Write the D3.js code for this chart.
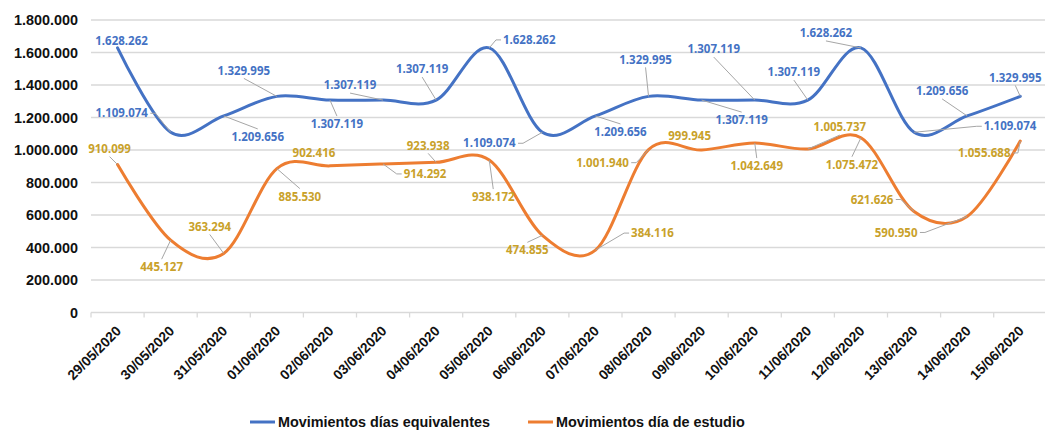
<!DOCTYPE html>
<html>
<head>
<meta charset="utf-8">
<script src="https://cdn.jsdelivr.net/npm/d3@7"></script>
<style>
  body { margin: 0; background: #fff; }
  svg { display: block; }
</style>
</head>
<body>
<script>
// data
const dates = ["29/05/2020", "30/05/2020", "31/05/2020", "01/06/2020", "02/06/2020", "03/06/2020",
  "04/06/2020", "05/06/2020", "06/06/2020", "07/06/2020", "08/06/2020", "09/06/2020",
  "10/06/2020", "11/06/2020", "12/06/2020", "13/06/2020", "14/06/2020", "15/06/2020"];

const equivalentes = [1628262, 1109074, 1209656, 1329995, 1307119, 1307119,
  1307119, 1628262, 1109074, 1209656, 1329995, 1307119,
  1307119, 1307119, 1628262, 1109074, 1209656, 1329995];

const estudio = [910099, 445127, 363294, 885530, 902416, 914292,
  923938, 938172, 474855, 384116, 1001940, 999945,
  1042649, 1005737, 1075472, 621626, 590950, 1055688];

const yTicks = [0, 200000, 400000, 600000, 800000, 1000000, 1200000, 1400000, 1600000, 1800000];

// label offsets from each point (layout, not data)
const blueOffsets = [[4, -7], [-49, -19], [34, 21], [-33, -26], [7, 24], [-33, -15],
  [-14, -31], [40, -8], [-53, 11], [25, 16], [-3, -37], [40, 20],
  [-41, -51], [-14, -28], [-35, -15], [96, -6], [-25, -25], [-5, -19]];
const orangeOffsets = [[-8, -16], [-9, 27], [-14, -27], [23, 28], [-16, -13], [42, 10],
  [-8, -17], [4, 37], [-15, 15], [57, -17], [-46, 13], [-12, -14],
  [2, 23], [32, -22], [-9, 27], [-42, -12], [-71, 16], [-36, 12]];

const width = 1045, height = 430;
const margin = {top: 20, left: 91, bottom: 312.5};

const series = [
  {name: "Movimientos días equivalentes", values: equivalentes, color: "#4472C4", labelColor: "#4472C4", offsets: blueOffsets},
  {name: "Movimientos día de estudio", values: estudio, color: "#ED7D31", labelColor: "#C9A12A", offsets: orangeOffsets}
];

const fmt = d3.formatLocale({decimal: ",", thousands: ".", grouping: [3], currency: ["", ""]}).format(",d");
const axisFont = "'Liberation Sans', Arial, sans-serif";

const svg = d3.select("body").append("svg")
  .attr("width", width)
  .attr("height", height);

const x = d3.scaleBand()
  .domain(dates)
  .range([margin.left, margin.left + 53.1 * dates.length]);

const y = d3.scaleLinear()
  .domain([0, 1800000])
  .range([margin.bottom, margin.top]);

// gridlines
svg.append("g")
  .selectAll("line")
  .data(yTicks)
  .join("line")
    .attr("x1", margin.left)
    .attr("x2", width)
    .attr("y1", d => y(d))
    .attr("y2", d => y(d))
    .attr("stroke", "#d9d9d9")
    .attr("stroke-width", 1.3);

// y tick labels
svg.append("g")
  .attr("font-family", axisFont)
  .attr("font-weight", "bold")
  .attr("font-size", 14.4)
  .selectAll("text")
  .data(yTicks)
  .join("text")
    .attr("x", 78)
    .attr("y", d => y(d))
    .attr("dy", "0.36em")
    .attr("text-anchor", "end")
    .attr("fill", "#111")
    .text(d => fmt(d));

// category tick marks
svg.append("g")
  .selectAll("line")
  .data(dates.map(d => x(d)))
  .join("line")
    .attr("x1", d => d)
    .attr("x2", d => d)
    .attr("y1", margin.bottom)
    .attr("y2", margin.bottom + 5)
    .attr("stroke", "#d9d9d9")
    .attr("stroke-width", 1.3);

// x labels
svg.append("g")
  .attr("font-family", axisFont)
  .attr("font-weight", "bold")
  .attr("font-size", 13.8)
  .selectAll("text")
  .data(dates)
  .join("text")
    .attr("transform", d => `translate(${x(d) + x.bandwidth() / 2 + 1},${margin.bottom + 16}) rotate(-45)`)
    .attr("text-anchor", "end")
    .attr("dy", "0.35em")
    .attr("fill", "#111")
    .text(d => d);

const line = d3.line()
  .x((d, i) => x(dates[i]) + x.bandwidth() / 2)
  .y(d => y(d))
  .curve(d3.curveCatmullRom.alpha(0));

svg.append("g")
  .selectAll("path")
  .data(series)
  .join("path")
    .attr("fill", "none")
    .attr("stroke", d => d.color)
    .attr("stroke-width", 3)
    .attr("stroke-linecap", "round")
    .attr("d", d => line(d.values));

// data labels + leader lines
const leaders = svg.append("g")
  .attr("stroke", "#a6a6a6")
  .attr("stroke-width", 1)
  .attr("fill", "none");

const labels = svg.append("g")
  .attr("font-family", "'Noto Sans', sans-serif")
  .attr("font-weight", "bold")
  .attr("font-size", 11.5);

series.forEach(s => {
  s.values.forEach((v, i) => {
    const px = x(dates[i]) + x.bandwidth() / 2;
    const py = y(v);
    const cx = px + s.offsets[i][0];
    const cy = py + s.offsets[i][1];

    const t = labels.append("text")
      .attr("x", cx)
      .attr("y", cy)
      .attr("dy", "0.36em")
      .attr("text-anchor", "middle")
      .attr("fill", s.labelColor)
      .text(fmt(v));

    const b = t.node().getBBox();
    const x0 = b.x, x1 = b.x + b.width;
    const y0 = cy - 6, y1 = cy + 6;
    const hgap = Math.max(x0 - px, px - x1, 0);
    const vgap = Math.max(y0 - py, py - y1, 0);
    if (Math.hypot(hgap, vgap) < 9) return;

    let pts;
    if (hgap >= vgap) {
      const sx = px < x0 ? x0 - 2 : x1 + 2;
      const ex = px < x0 ? sx - 5 : sx + 5;
      pts = [[sx, cy], [ex, cy], [px, py]];
    } else {
      const sy = py < y0 ? y0 - 2 : y1 + 2;
      pts = [[cx, sy], [px, py]];
    }
    leaders.append("path").attr("d", d3.line()(pts));
  });
});

// legend
const legend = svg.append("g")
  .attr("font-family", axisFont)
  .attr("font-weight", "bold")
  .attr("font-size", 14.4);

const legendX = [250, 528];
series.forEach((s, i) => {
  legend.append("line")
    .attr("x1", legendX[i])
    .attr("x2", legendX[i] + 25)
    .attr("y1", 422)
    .attr("y2", 422)
    .attr("stroke", s.color)
    .attr("stroke-width", 3);
  legend.append("text")
    .attr("x", legendX[i] + 28)
    .attr("y", 422)
    .attr("dy", "0.36em")
    .attr("fill", "#111")
    .text(s.name);
});
</script>
</body>
</html>
